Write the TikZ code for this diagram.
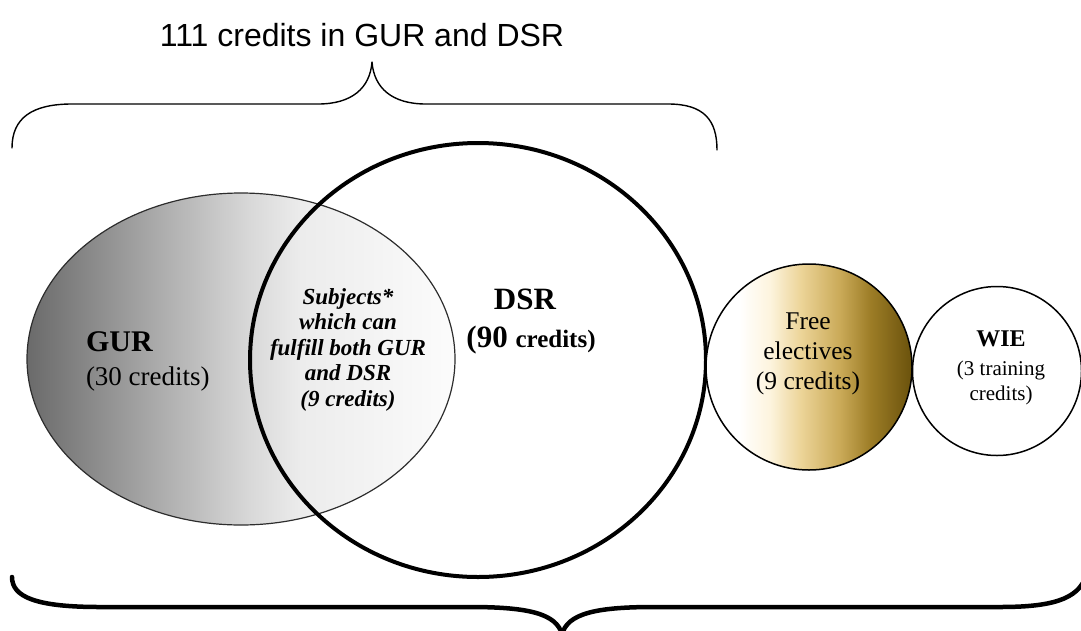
\documentclass[tikz,border=0pt]{standalone}
\usepackage{fontspec}
\setmainfont{Liberation Serif}
\newfontfamily\arialf{Liberation Sans}
\usetikzlibrary{shapes.geometric}
\definecolor{rimgray}{RGB}{45,45,45}
\definecolor{sA}{RGB}{106,106,106}
\definecolor{sB}{RGB}{168,168,168}
\definecolor{sC}{RGB}{216,216,216}
\definecolor{sD}{RGB}{236,236,236}
\definecolor{sE}{RGB}{252,252,252}
\definecolor{gA}{RGB}{255,255,255}
\definecolor{gB}{RGB}{253,244,222}
\definecolor{gC}{RGB}{236,212,152}
\definecolor{gD}{RGB}{202,170,88}
\definecolor{gE}{RGB}{156,124,38}
\definecolor{gF}{RGB}{106,82,12}
\pgfdeclarehorizontalshading{grayshade}{100bp}{%
  color(0bp)=(sA); color(25bp)=(sA); color(39.5bp)=(sB); color(51bp)=(sC);
  color(57bp)=(sD); color(75bp)=(sE); color(100bp)=(sE)}
\pgfdeclarehorizontalshading{goldshade}{100bp}{%
  color(0bp)=(gA); color(33bp)=(gA); color(40.5bp)=(gB); color(48bp)=(gC);
  color(57.5bp)=(gD); color(65bp)=(gE); color(75bp)=(gF); color(100bp)=(gF)}
\tikzset{
  setshape/.style={inner sep=0pt, outer sep=0pt},
  lbl/.style={inner sep=0pt, outer sep=0pt, align=center, anchor=base},
  thinbrace/.style={line width=1.4pt, line cap=round, line join=round},
  thickbrace/.style={line width=4.5pt, line cap=round, line join=round},
}
\begin{document}
\begin{tikzpicture}[x=1pt,y=-1pt]
\useasboundingbox (0,0) rectangle (1081,630);
\clip (0,0) rectangle (1081,630);

% sets
\node[setshape, ellipse, draw=rimgray, line width=1.2pt,
      shade, shading=grayshade,
      minimum width=428pt, minimum height=332pt] (gur) at (241,359) {};
\node[setshape, ellipse, draw=black, line width=4pt,
      minimum width=456pt, minimum height=434pt] (dsr) at (478,360) {};
\node[setshape, circle, draw=black, line width=1.5pt,
      shade, shading=goldshade,
      minimum size=206pt] (free) at (809,367) {};
\node[setshape, circle, draw=black, line width=1.5pt, fill=white,
      minimum size=169pt] (wie) at (997,371) {};

% labels (anchor = baseline of last line)
\node[lbl, anchor=base west, align=left, font=\fontsize{27}{34}\selectfont] (gurlbl) at (86,385)
  {{\fontsize{30}{34}\selectfont\bfseries GUR}\\(30 credits)};
\node[lbl, font=\fontsize{31}{38}\selectfont\bfseries] (dsrlbl) at (531,347)
  {DSR\hspace*{12pt}\\(90 {\fontsize{25}{38}\selectfont credits)}};
\node[lbl, font=\fontsize{23}{25.5}\selectfont\bfseries\itshape] (bothlbl) at (348,406)
  {Subjects*\\which can\\fulfill both GUR\\and DSR\\(9 credits)};
\node[lbl, font=\fontsize{25.5}{30}\selectfont] (freelbl) at (808,389)
  {Free\\electives\\(9 credits)};
\node[lbl, font=\fontsize{21}{25}\selectfont] (wielbl) at (1001,400)
  {{\fontsize{24}{25}\selectfont\bfseries WIE}\\[4pt](3 training\\credits)};

% top brace and title
\node[lbl, font=\arialf\fontsize{32}{36}\selectfont] (title) at (362,46) {111 credits in GUR and DSR};
\draw[thinbrace] (12,148) .. controls (12,118) and (32,104) .. (72,104)
  -- (318,104) .. controls (352,104) and (370,88) .. (372,62)
  .. controls (374,88) and (392,104) .. (426,104)
  -- (668,104) .. controls (704,104) and (717,120) .. (717,150);

% bottom brace
\draw[thickbrace] (12,577) .. controls (12,597) and (36,607) .. (100,607)
  -- (470,607) .. controls (530,607) and (556,614) .. (562,634)
  .. controls (568,614) and (594,607) .. (654,607)
  -- (1000,607) .. controls (1050,607) and (1078,600) .. (1086,576);
\end{tikzpicture}
\end{document}
